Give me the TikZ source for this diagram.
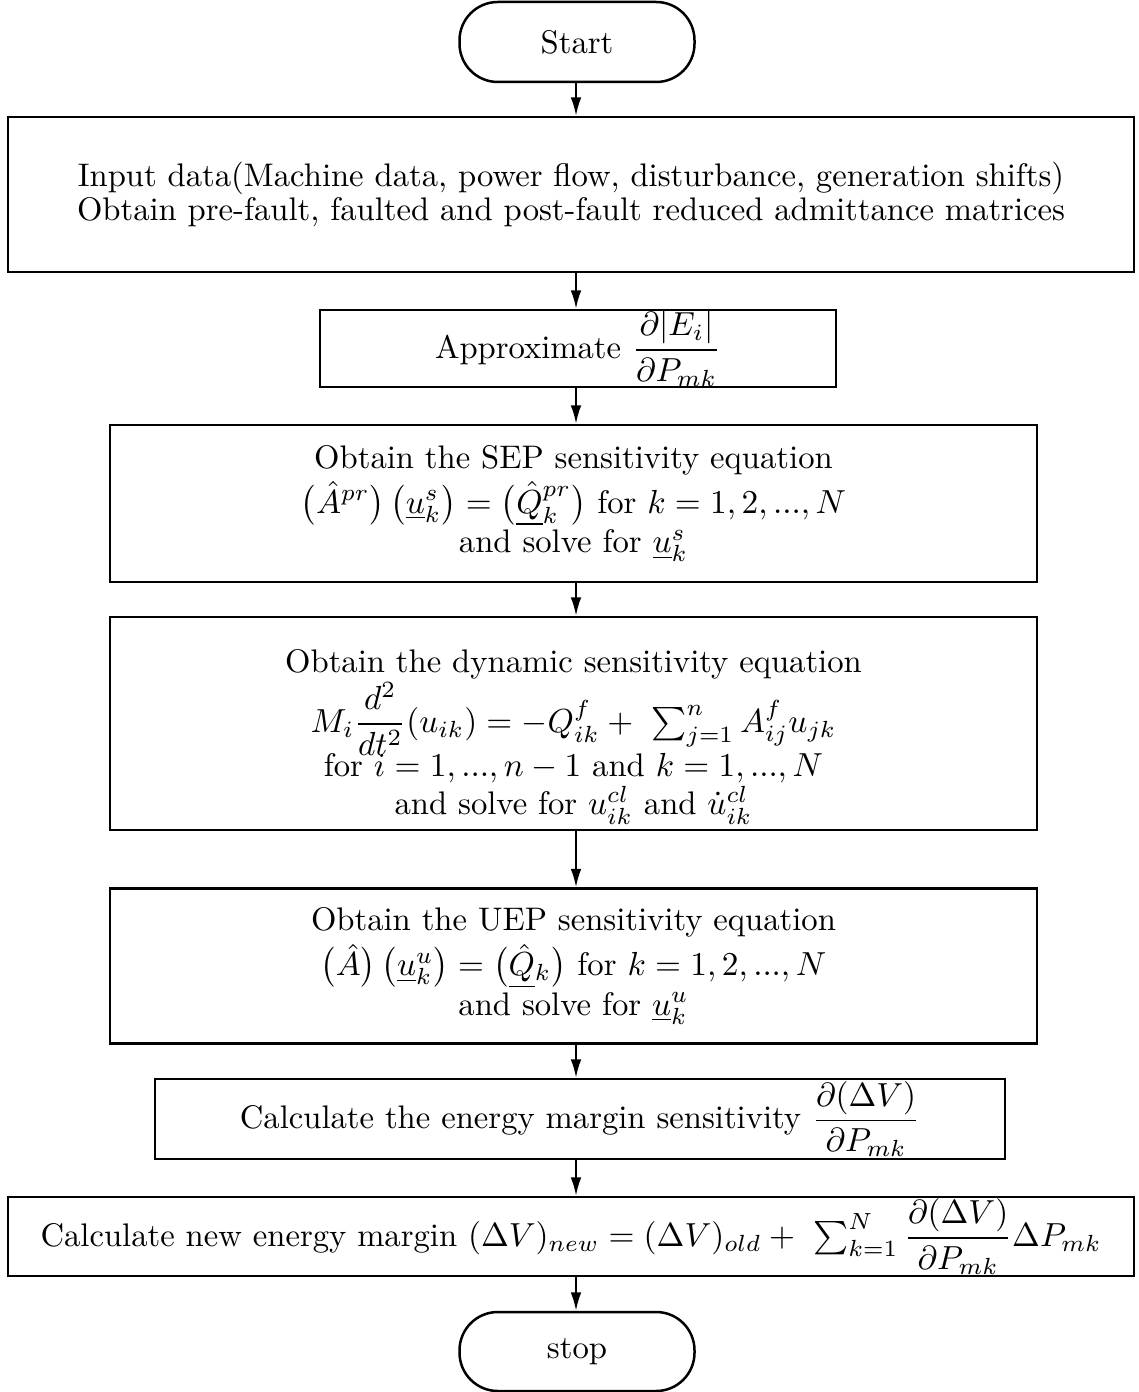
\documentclass[tikz,border=0pt]{standalone}
\usepackage{amsmath}
\usetikzlibrary{arrows.meta,calc}
\begin{document}
\begin{tikzpicture}[x=0.3pt,y=-0.3pt,
  box/.style={draw,line width=0.75pt,inner sep=0pt,align=center,
    font=\fontsize{9.8}{10}\selectfont},
  term/.style={box,rounded corners=11.5pt},
  arr/.style={line width=0.6pt,-{Latex[length=5.5pt,width=3.2pt]}}]
\useasboundingbox (0,0) rectangle (1138,1392);
\coordinate (ax) at (576,0);
\node[term,minimum width=70.5pt,minimum height=24pt] (start) at (577,42) {Start};
\node[box,minimum width=337.8pt,minimum height=46.5pt] (b1) at (571,194.5)
  {Input data(Machine data, power flow, disturbance, generation shifts)\\
   Obtain pre-fault, faulted and post-fault reduced admittance matrices};
\node[box,minimum width=154.8pt,minimum height=23.1pt] (b2) at (578,348.5)
  {Approximate $\dfrac{\partial|E_i|}{\partial P_{mk}}$};
\node[box,minimum width=278.1pt,minimum height=47.1pt] (b3) at (573.5,503.5)
  {Obtain the SEP sensitivity equation\\[1pt]
   $\bigl(\hat A^{pr}\bigr)\,\bigl(\underline{u}_k^s\bigr)=\bigl(\underline{\hat Q}{}_k^{pr}\bigr)$ for $k=1,2,...,N$\\
   and solve for $\underline{u}_k^s$};
\node[box,minimum width=278.1pt,minimum height=63.9pt] (b4) at (573.5,723.5)
  {\rule{0pt}{15pt}Obtain the dynamic sensitivity equation\\
   $M_i\dfrac{d^2}{dt^2}(u_{ik})=-Q^f_{ik}+\ \sum_{j=1}^n A^f_{ij}u_{jk}$\\[-1.5pt]
   for $i=1,...,n-1$ and $k=1,...,N$\\
   and solve for $u^{cl}_{ik}$ and $\dot u^{cl}_{ik}$};
\node[box,minimum width=278.1pt,minimum height=46.5pt] (b5) at (573.5,966)
  {Obtain the UEP sensitivity equation\\[1pt]
   $\bigl(\hat A\bigr)\,\bigl(\underline{u}_k^u\bigr)=\bigl(\underline{\hat Q}{}_k\bigr)$ for $k=1,2,...,N$\\
   and solve for $\underline{u}_k^u$};
\node[box,minimum width=255pt,minimum height=24pt] (b6) at (580,1119)
  {Calculate the energy margin sensitivity $\dfrac{\partial(\Delta V)}{\partial P_{mk}}$};
\node[box,minimum width=337.8pt,minimum height=23.7pt] (b7) at (571,1236.5)
  {Calculate new energy margin $(\Delta V)_{new}=(\Delta V)_{old}+\ \sum_{k=1}^N\dfrac{\partial(\Delta V)}{\partial P_{mk}}\Delta P_{mk}$};
\node[term,minimum width=70.5pt,minimum height=23.7pt] (stop) at (577,1351.5) {stop};
\draw[arr] (ax |- start.south) -- (ax |- b1.north);
\draw[arr] (ax |- b1.south) -- (ax |- b2.north);
\draw[arr] (ax |- b2.south) -- (ax |- b3.north);
\draw[arr] (ax |- b3.south) -- (ax |- b4.north);
\draw[arr] (ax |- b4.south) -- (ax |- b5.north);
\draw[arr] (ax |- b5.south) -- (ax |- b6.north);
\draw[arr] (ax |- b6.south) -- (ax |- b7.north);
\draw[arr] (ax |- b7.south) -- (ax |- stop.north);
\end{tikzpicture}
\end{document}
